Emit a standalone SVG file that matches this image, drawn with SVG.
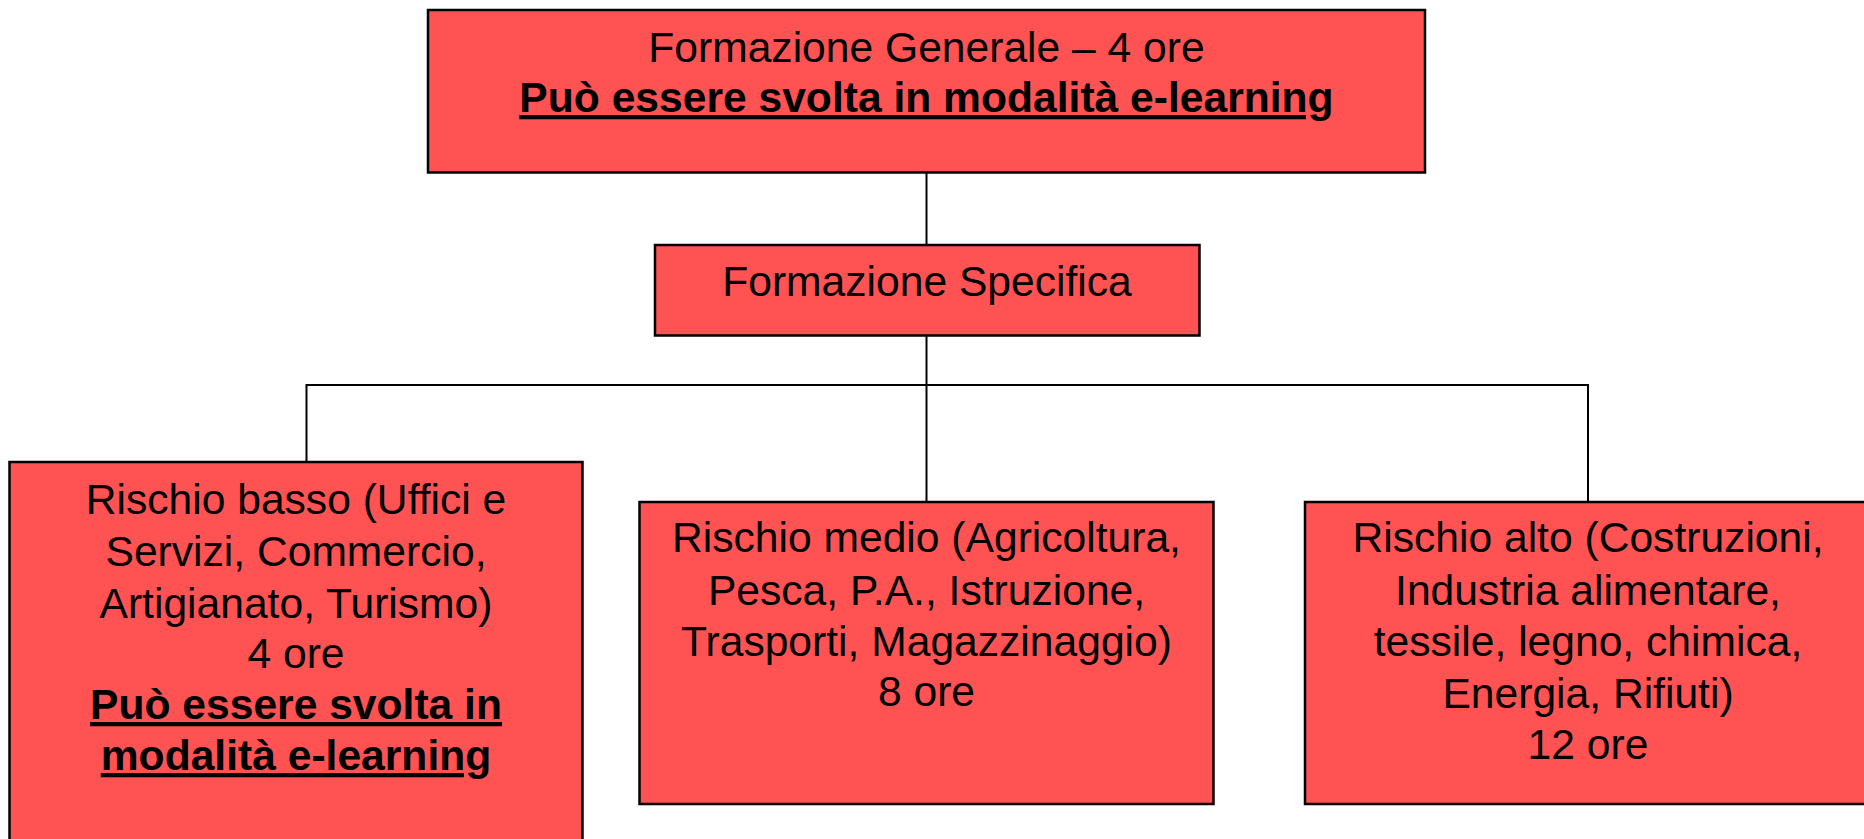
<svg xmlns="http://www.w3.org/2000/svg" width="1864" height="839" viewBox="0 0 1864 839">
<style>
.box{fill:#FF5252;stroke:#000;stroke-width:2.5}
.t{font-family:"Liberation Sans",Arial,sans-serif;font-size:42.6px;fill:#000;text-anchor:middle}
.b{font-weight:bold;text-decoration:underline}
.c{fill:none;stroke:#000;stroke-width:2}
</style>
<rect width="1864" height="839" fill="#fff"/>
<g id="connectors">
<line class="c" x1="926.5" y1="172.5" x2="926.5" y2="245"/>
<line class="c" x1="926.5" y1="335.5" x2="926.5" y2="502"/>
<polyline class="c" points="306.5,462 306.5,385 1588,385 1588,502"/>
</g>
<g id="generale">
<rect class="box" x="428" y="10" width="997" height="162.5"/>
<text class="t" x="926.5" y="62">Formazione Generale – 4 ore</text>
<text class="t b" x="926.5" y="112">Può essere svolta in modalità e-learning</text>
</g>
<g id="specifica">
<rect class="box" x="655" y="245" width="544.5" height="90.5"/>
<text class="t" x="927" y="296">Formazione Specifica</text>
</g>
<g id="basso">
<rect class="box" x="9.5" y="462" width="573" height="400"/>
<text class="t" x="296" y="514">Rischio basso (Uffici e</text>
<text class="t" x="296" y="566">Servizi, Commercio,</text>
<text class="t" x="296" y="618">Artigianato, Turismo)</text>
<text class="t" x="296" y="668">4 ore</text>
<text class="t b" x="296" y="719">Può essere svolta in</text>
<text class="t b" x="296" y="770">modalità e-learning</text>
</g>
<g id="medio">
<rect class="box" x="639.5" y="502" width="574" height="302"/>
<text class="t" x="926.5" y="552">Rischio medio (Agricoltura,</text>
<text class="t" x="926.5" y="605">Pesca, P.A., Istruzione,</text>
<text class="t" x="926.5" y="656">Trasporti, Magazzinaggio)</text>
<text class="t" x="926.5" y="706">8 ore</text>
</g>
<g id="alto">
<rect class="box" x="1305" y="502" width="580" height="302"/>
<text class="t" x="1588" y="552">Rischio alto (Costruzioni,</text>
<text class="t" x="1588" y="605">Industria alimentare,</text>
<text class="t" x="1588" y="656">tessile, legno, chimica,</text>
<text class="t" x="1588" y="708">Energia, Rifiuti)</text>
<text class="t" x="1588" y="759">12 ore</text>
</g>
</svg>
